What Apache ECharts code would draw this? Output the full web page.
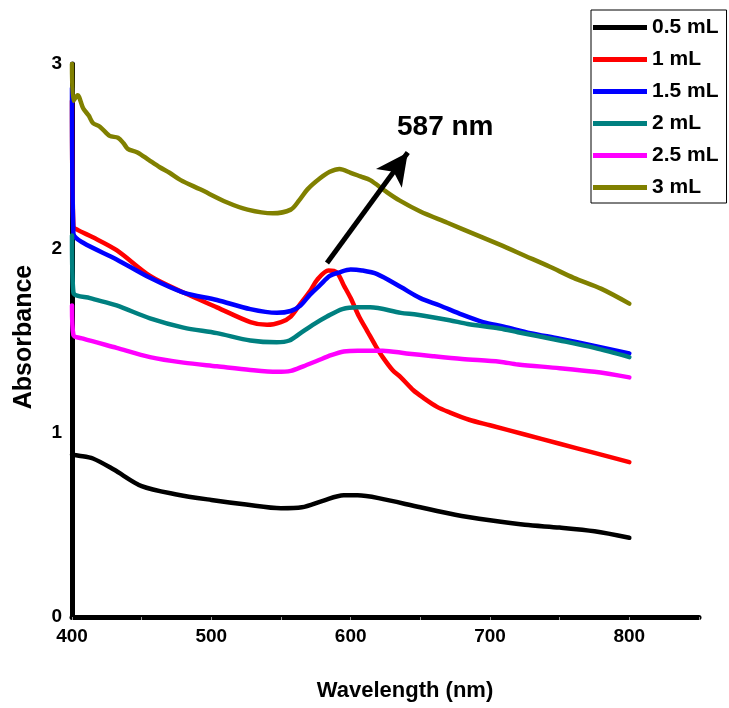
<!DOCTYPE html>
<html>
<head>
<meta charset="utf-8">
<script src="https://cdn.jsdelivr.net/npm/echarts@6/dist/echarts.min.js"></script>
<style>html,body{margin:0;padding:0;background:#fff;}#c{width:729px;height:708px;}</style>
</head>
<body>
<div id="c"></div>
<script>
var seriesNames = ['0.5 mL', '1 mL', '1.5 mL', '2 mL', '2.5 mL', '3 mL'];
var seriesColors = ['#000000', '#ff0000', '#0000ff', '#008080', '#ff00ff', '#808000'];

var wl05 = [400, 405, 415, 430, 450, 475, 500, 525, 550, 565, 580, 595, 605, 620, 650, 675, 700, 725, 750, 775, 800];
var ab05 = [0.88, 0.875, 0.86, 0.80, 0.71, 0.665, 0.635, 0.61, 0.59, 0.595, 0.63, 0.66, 0.66, 0.645, 0.595, 0.555, 0.525, 0.50, 0.485, 0.465, 0.43];

var wl1 = [400, 401, 404, 415, 432, 456, 480, 504, 528, 540, 550, 557, 564, 571, 576, 584, 590, 595, 600, 606, 612, 618, 623, 630, 636, 645, 652, 662, 671, 685, 700, 725, 750, 775, 800];
var ab1 = [2.8, 2.12, 2.10, 2.06, 1.99, 1.85, 1.76, 1.68, 1.60, 1.585, 1.60, 1.63, 1.70, 1.77, 1.83, 1.88, 1.87, 1.80, 1.73, 1.63, 1.55, 1.47, 1.41, 1.34, 1.30, 1.23, 1.19, 1.14, 1.11, 1.07, 1.04, 0.99, 0.94, 0.89, 0.84];

var wl15 = [400, 401, 408, 432, 456, 480, 504, 528, 547, 557, 564, 571, 578, 585, 592, 600, 608, 619, 636, 650, 664, 680, 695, 710, 729, 750, 775, 800];
var ab15 = [2.87, 2.08, 2.03, 1.94, 1.84, 1.76, 1.72, 1.67, 1.65, 1.66, 1.69, 1.75, 1.80, 1.85, 1.87, 1.885, 1.88, 1.86, 1.79, 1.73, 1.69, 1.64, 1.60, 1.575, 1.54, 1.51, 1.47, 1.43];

var wl2 = [400, 401, 413, 432, 456, 480, 504, 528, 547, 556, 564, 574, 583, 594, 605, 614, 636, 648, 671, 684, 707, 720, 750, 775, 800];
var ab2 = [2.07, 1.76, 1.73, 1.69, 1.62, 1.57, 1.54, 1.50, 1.49, 1.50, 1.54, 1.59, 1.63, 1.67, 1.68, 1.68, 1.65, 1.64, 1.61, 1.59, 1.565, 1.545, 1.50, 1.46, 1.41];

var wl25 = [400, 401, 408, 432, 456, 480, 504, 528, 547, 557, 566, 576, 586, 595, 605, 623, 640, 659, 680, 707, 720, 750, 775, 800];
var ab25 = [1.69, 1.53, 1.51, 1.46, 1.41, 1.38, 1.36, 1.34, 1.33, 1.335, 1.36, 1.39, 1.42, 1.44, 1.445, 1.445, 1.43, 1.415, 1.40, 1.385, 1.37, 1.35, 1.33, 1.30];

var wl3 = [400, 401, 404, 408, 412, 415, 420, 427, 433, 437, 440, 447, 455, 463, 470, 478, 492, 511, 526, 544, 557, 563, 569, 578, 585, 592, 600, 607, 614, 625, 635, 650, 669, 688, 707, 725, 743, 760, 780, 800];
var ab3 = [3.0, 2.80, 2.83, 2.76, 2.72, 2.68, 2.66, 2.61, 2.60, 2.57, 2.54, 2.52, 2.48, 2.44, 2.41, 2.37, 2.32, 2.25, 2.21, 2.19, 2.21, 2.26, 2.32, 2.38, 2.415, 2.43, 2.41, 2.39, 2.37, 2.31, 2.26, 2.20, 2.14, 2.08, 2.02, 1.96, 1.90, 1.84, 1.78, 1.70];

var xTicks = [400, 500, 600, 700, 800];
var yTicks = [0, 1, 2, 3];
var peakLabel = '587 nm';
var arrowFrom = [583, 1.92];
var arrowTo = [641, 2.52];

var allX = [wl05, wl1, wl15, wl2, wl25, wl3];
var allY = [ab05, ab1, ab15, ab2, ab25, ab3];

function pairs(xs, ys) { return xs.map(function (x, i) { return [x, ys[i]]; }); }

var FONT = 'Liberation Sans, Arial, sans-serif';

var series = seriesNames.map(function (n, i) {
  return {
    name: n,
    type: 'line',
    data: pairs(allX[i], allY[i]),
    showSymbol: false,
    symbol: 'none',
    smooth: 0.3,
    lineStyle: { color: seriesColors[i], width: 4.5, join: 'round', cap: 'round' },
    itemStyle: { color: seriesColors[i] },
    z: 3
  };
});

series[0].markLine = {
  silent: true,
  symbol: ['none', 'arrow'],
  symbolSize: [24, 32],
  label: { show: false },
  lineStyle: { color: '#000', width: 5, type: 'solid' },
  data: [[{ coord: arrowFrom }, { coord: arrowTo }]],
  z: 10
};

var chart = echarts.init(document.getElementById('c'), null, { renderer: 'canvas' });
chart.setOption({
  animation: false,
  backgroundColor: '#fff',
  grid: { left: 72, right: 30, top: 64, bottom: 91, containLabel: false },
  xAxis: {
    type: 'value',
    min: 400, max: 850, interval: 50,
    axisLine: { show: true, onZero: false, lineStyle: { color: '#000', width: 5 } },
    axisTick: { show: true, length: 3, lineStyle: { color: '#999', width: 1 } },
    splitLine: { show: false },
    axisLabel: {
      margin: 10,
      color: '#000', fontWeight: 'bold', fontSize: 19, fontFamily: FONT,
      formatter: function (v) { return xTicks.indexOf(v) >= 0 ? String(v) : ''; }
    }
  },
  yAxis: {
    type: 'value',
    min: 0, max: 3, interval: 1,
    axisLine: { show: true, lineStyle: { color: '#000', width: 5 } },
    axisTick: { show: false },
    splitLine: { show: false },
    axisLabel: {
      margin: 10,
      color: '#000', fontWeight: 'bold', fontSize: 19, fontFamily: FONT,
      formatter: function (v) { return yTicks.indexOf(v) >= 0 ? String(v) : ''; }
    }
  },
  legend: {
    show: true,
    orient: 'vertical',
    left: 591, top: 10,
    padding: [7, 8, 5, 2],
    itemGap: 11,
    itemWidth: 54, itemHeight: 5,
    icon: 'rect',
    selectedMode: false,
    borderColor: '#000', borderWidth: 1,
    backgroundColor: '#fff',
    textStyle: { color: '#000', fontWeight: 'bold', fontSize: 21, fontFamily: FONT, padding: [0, 0, 0, 0] },
    data: seriesNames
  },
  graphic: [
    { type: 'text', left: 397, top: 113, style: { text: peakLabel, fill: '#000', font: 'bold 28px ' + FONT } },
    { type: 'text', x: 405, y: 691, style: { text: 'Wavelength (nm)', fill: '#000', font: 'bold 22px ' + FONT, textAlign: 'center', textVerticalAlign: 'middle' } },
    { type: 'text', x: 24, y: 337, rotation: Math.PI / 2, style: { text: 'Absorbance', fill: '#000', font: 'bold 25px ' + FONT, textAlign: 'center', textVerticalAlign: 'middle' } }
  ],
  series: series
});
</script>
</body>
</html>
